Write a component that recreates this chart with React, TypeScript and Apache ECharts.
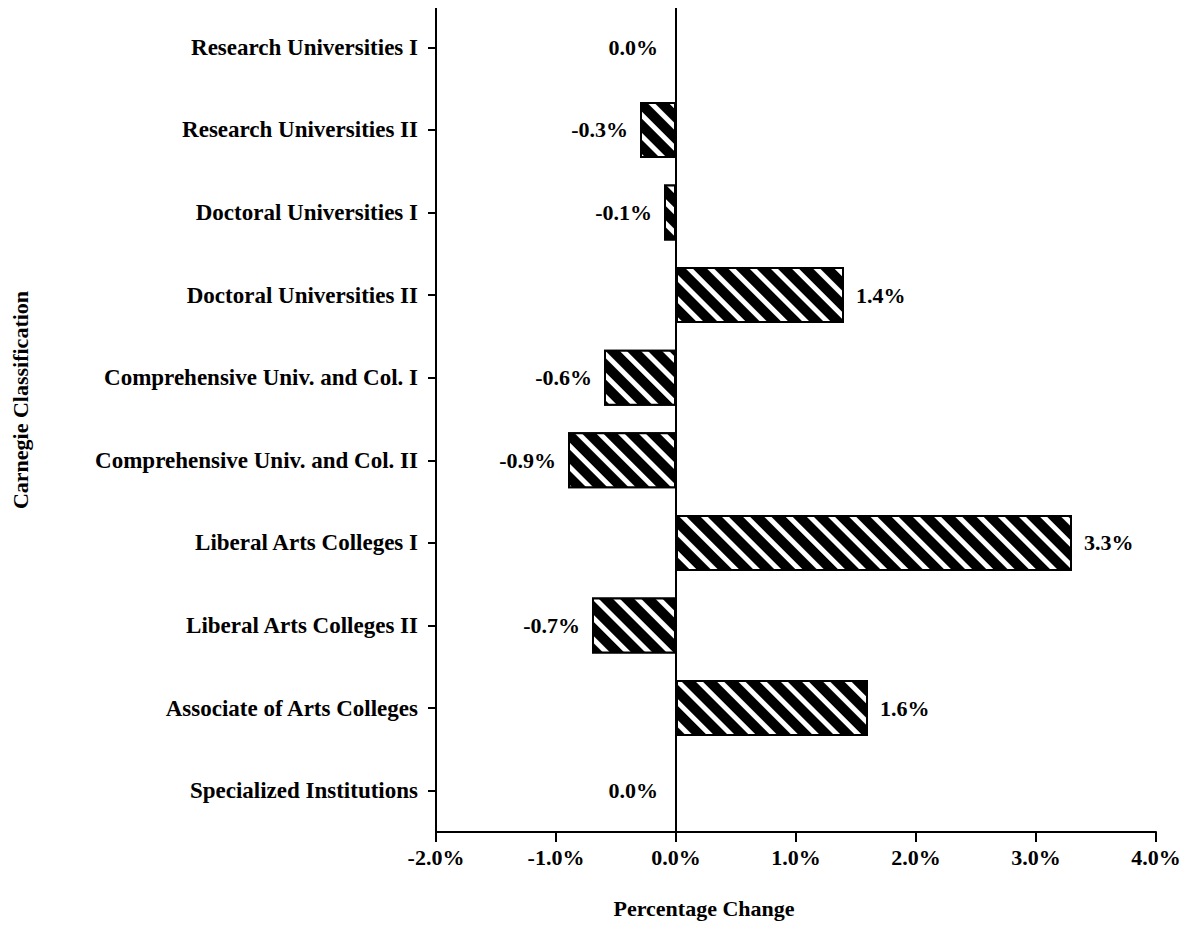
import React, { useEffect, useRef } from "react";
import * as echarts from "echarts";

const categories = [
  "Research Universities I",
  "Research Universities II",
  "Doctoral Universities I",
  "Doctoral Universities II",
  "Comprehensive Univ. and Col. I",
  "Comprehensive Univ. and Col. II",
  "Liberal Arts Colleges I",
  "Liberal Arts Colleges II",
  "Associate of Arts Colleges",
  "Specialized Institutions",
];
const values = [0.0, -0.3, -0.1, 1.4, -0.6, -0.9, 3.3, -0.7, 1.6, 0.0];
const xTicks = { min: -2, max: 4, interval: 1 };
const FONT = "'Liberation Serif', 'DejaVu Serif', serif";

export default function App() {
  const ref = useRef<HTMLDivElement>(null);
  useEffect(() => {
    if (!ref.current) return;
    const chart = echarts.init(ref.current, null, { renderer: "svg" });
    const data = values.map((v) => ({
      value: v,
      label: {
        position: v > 0 ? "right" : "left",
        distance: v === 0 ? 17 : 12,
      },
    }));
    chart.setOption({
      animation: false,
      backgroundColor: "#fff",
      grid: { left: 436, right: 32, top: 6, bottom: 950 - 832, containLabel: false },
      xAxis: {
        type: "value",
        min: xTicks.min,
        max: xTicks.max,
        interval: xTicks.interval,
        axisLine: { show: true, lineStyle: { color: "#000", width: 2 } },
        axisTick: { show: true, length: 10, lineStyle: { color: "#000", width: 2 } },
        splitLine: { show: false },
        axisLabel: {
          color: "#000",
          fontFamily: FONT,
          fontSize: 22,
          fontWeight: "bold",
          margin: 14,
          formatter: (v: number) => v.toFixed(1) + "%",
        },
      },
      yAxis: {
        type: "category",
        inverse: true,
        data: categories,
        axisLine: { show: true, onZero: false, lineStyle: { color: "#000", width: 2 } },
        axisTick: { show: true, alignWithLabel: true, length: 8, lineStyle: { color: "#000", width: 2 } },
        axisLabel: {
          color: "#000",
          fontFamily: FONT,
          fontSize: 23,
          fontWeight: "bold",
          margin: 18,
        },
      },
      series: [
        {
          type: "bar",
          data,
          barWidth: 56,
          itemStyle: {
            color: "#000",
            borderColor: "#000",
            borderWidth: 2,
            decal: {
              symbol: "rect",
              color: "#fff",
              dashArrayX: [1, 0],
              dashArrayY: [5, 10],
              rotation: Math.PI / 4,
            },
          },
          label: {
            show: true,
            color: "#000",
            fontFamily: FONT,
            fontSize: 22,
            fontWeight: "bold",
            formatter: (p: any) => Number(p.value).toFixed(1) + "%",
          },
          markLine: {
            silent: true,
            symbol: "none",
            label: { show: false },
            lineStyle: { color: "#000", width: 2, type: "solid" },
            data: [{ xAxis: 0 }],
          },
        },
      ],
      graphic: [
        {
          type: "text",
          x: 704,
          y: 908,
          style: {
            text: "Percentage Change",
            fontFamily: FONT,
            fontSize: 22,
            fontWeight: "bold",
            fill: "#000",
            align: "center",
            verticalAlign: "middle",
          },
        },
        {
          type: "text",
          x: 20,
          y: 400,
          rotation: Math.PI / 2,
          style: {
            text: "Carnegie Classification",
            fontFamily: FONT,
            fontSize: 22,
            fontWeight: "bold",
            fill: "#000",
            align: "center",
            verticalAlign: "middle",
          },
        },
      ],
    });
    return () => chart.dispose();
  }, []);
  return <div ref={ref} style={{ width: 1188, height: 950, margin: -8 }} />;
}
